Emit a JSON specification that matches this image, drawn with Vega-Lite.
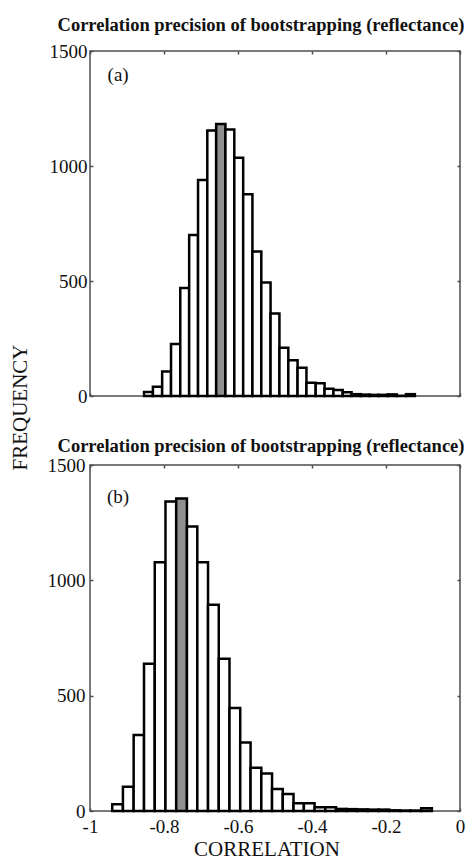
{
  "$schema": "https://vega.github.io/schema/vega-lite/v6.json",
  "autosize": {"type": "none"},
  "padding": {"left": 90, "top": 51, "right": 380, "bottom": 808},
  "bounds": "flush",
  "spacing": 69,
  "config": {
    "locale": {"number": {"decimal": ".", "thousands": ",", "grouping": [3], "currency": ["$", ""], "minus": "-"}},
    "view": {"stroke": "#4d4d4d", "strokeWidth": 1.5},
    "axis": {"grid": false, "domain": false, "tickColor": "#4d4d4d", "tickWidth": 1.5, "tickSize": -3, "labelFlush": false, "labelFont": "Liberation Serif", "labelFontSize": 19, "labelColor": "#111111", "titleFont": "Liberation Serif", "titleFontWeight": "normal", "titleFontSize": 21, "titleColor": "#111111"},
    "title": {"font": "Liberation Serif", "fontSize": 18.5, "fontWeight": "bold", "color": "#111111"}
  },
  "datasets": {
    "a": [
      {"x0": -0.854, "x1": -0.830, "count": 17, "bin": "other"},
      {"x0": -0.830, "x1": -0.805, "count": 40, "bin": "other"},
      {"x0": -0.805, "x1": -0.781, "count": 106, "bin": "other"},
      {"x0": -0.781, "x1": -0.756, "count": 226, "bin": "other"},
      {"x0": -0.756, "x1": -0.732, "count": 470, "bin": "other"},
      {"x0": -0.732, "x1": -0.708, "count": 700, "bin": "other"},
      {"x0": -0.708, "x1": -0.683, "count": 939, "bin": "other"},
      {"x0": -0.683, "x1": -0.659, "count": 1154, "bin": "other"},
      {"x0": -0.659, "x1": -0.634, "count": 1183, "bin": "mean"},
      {"x0": -0.634, "x1": -0.610, "count": 1159, "bin": "other"},
      {"x0": -0.610, "x1": -0.586, "count": 1036, "bin": "other"},
      {"x0": -0.586, "x1": -0.561, "count": 877, "bin": "other"},
      {"x0": -0.561, "x1": -0.537, "count": 628, "bin": "other"},
      {"x0": -0.537, "x1": -0.512, "count": 494, "bin": "other"},
      {"x0": -0.512, "x1": -0.488, "count": 359, "bin": "other"},
      {"x0": -0.488, "x1": -0.464, "count": 210, "bin": "other"},
      {"x0": -0.464, "x1": -0.439, "count": 155, "bin": "other"},
      {"x0": -0.439, "x1": -0.415, "count": 123, "bin": "other"},
      {"x0": -0.415, "x1": -0.390, "count": 58, "bin": "other"},
      {"x0": -0.390, "x1": -0.366, "count": 55, "bin": "other"},
      {"x0": -0.366, "x1": -0.342, "count": 32, "bin": "other"},
      {"x0": -0.342, "x1": -0.317, "count": 26, "bin": "other"},
      {"x0": -0.317, "x1": -0.293, "count": 16, "bin": "other"},
      {"x0": -0.293, "x1": -0.268, "count": 8, "bin": "other"},
      {"x0": -0.268, "x1": -0.244, "count": 6, "bin": "other"},
      {"x0": -0.244, "x1": -0.220, "count": 5, "bin": "other"},
      {"x0": -0.220, "x1": -0.195, "count": 5, "bin": "other"},
      {"x0": -0.195, "x1": -0.171, "count": 7, "bin": "other"},
      {"x0": -0.171, "x1": -0.146, "count": 1, "bin": "other"},
      {"x0": -0.146, "x1": -0.122, "count": 8, "bin": "other"}
    ],
    "b": [
      {"x0": -0.940, "x1": -0.911, "count": 29, "bin": "other"},
      {"x0": -0.911, "x1": -0.882, "count": 105, "bin": "other"},
      {"x0": -0.882, "x1": -0.854, "count": 329, "bin": "other"},
      {"x0": -0.854, "x1": -0.825, "count": 638, "bin": "other"},
      {"x0": -0.825, "x1": -0.796, "count": 1078, "bin": "other"},
      {"x0": -0.796, "x1": -0.767, "count": 1342, "bin": "other"},
      {"x0": -0.767, "x1": -0.738, "count": 1355, "bin": "mean"},
      {"x0": -0.738, "x1": -0.710, "count": 1233, "bin": "other"},
      {"x0": -0.710, "x1": -0.681, "count": 1078, "bin": "other"},
      {"x0": -0.681, "x1": -0.652, "count": 894, "bin": "other"},
      {"x0": -0.652, "x1": -0.623, "count": 660, "bin": "other"},
      {"x0": -0.623, "x1": -0.594, "count": 447, "bin": "other"},
      {"x0": -0.594, "x1": -0.566, "count": 297, "bin": "other"},
      {"x0": -0.566, "x1": -0.537, "count": 187, "bin": "other"},
      {"x0": -0.537, "x1": -0.508, "count": 163, "bin": "other"},
      {"x0": -0.508, "x1": -0.479, "count": 95, "bin": "other"},
      {"x0": -0.479, "x1": -0.450, "count": 74, "bin": "other"},
      {"x0": -0.450, "x1": -0.422, "count": 34, "bin": "other"},
      {"x0": -0.422, "x1": -0.393, "count": 34, "bin": "other"},
      {"x0": -0.393, "x1": -0.364, "count": 16, "bin": "other"},
      {"x0": -0.364, "x1": -0.335, "count": 16, "bin": "other"},
      {"x0": -0.335, "x1": -0.306, "count": 9, "bin": "other"},
      {"x0": -0.306, "x1": -0.278, "count": 8, "bin": "other"},
      {"x0": -0.278, "x1": -0.249, "count": 7, "bin": "other"},
      {"x0": -0.249, "x1": -0.220, "count": 6, "bin": "other"},
      {"x0": -0.220, "x1": -0.191, "count": 6, "bin": "other"},
      {"x0": -0.191, "x1": -0.162, "count": 3, "bin": "other"},
      {"x0": -0.162, "x1": -0.134, "count": 2, "bin": "other"},
      {"x0": -0.134, "x1": -0.105, "count": 2, "bin": "other"},
      {"x0": -0.105, "x1": -0.076, "count": 12, "bin": "other"}
    ]
  },
  "vconcat": [
    {
      "width": 370,
      "height": 345,
      "title": {"text": "Correlation precision of bootstrapping (reflectance)", "anchor": "middle", "frame": "group", "dx": -14, "offset": -7, "baseline": "alphabetic"},
      "resolve": {"axis": {"x": "independent", "y": "independent"}},
      "layer": [
        {
          "data": {"name": "a"},
          "mark": {"type": "bar", "stroke": "black", "strokeWidth": 2.5},
          "encoding": {
            "x": {"field": "x0", "type": "quantitative", "scale": {"domain": [-1, 0], "nice": false, "zero": false},
                  "axis": {"orient": "bottom", "values": [-1, -0.8, -0.6, -0.4, -0.2, 0], "labels": false, "title": null}},
            "x2": {"field": "x1"},
            "y": {"field": "count", "type": "quantitative", "scale": {"domain": [0, 1500], "nice": false},
                  "axis": {"orient": "left", "values": [0, 500, 1000, 1500], "format": "d", "labelPadding": 6,
                           "title": "FREQUENCY", "titleX": -69.5, "titleY": 356, "titleAngle": -90, "titleAlign": "center", "titleBaseline": "middle"}},
            "y2": {"datum": 0},
            "fill": {"field": "bin", "type": "nominal", "scale": {"domain": ["other", "mean"], "range": ["white", "#8f8f8f"]}, "legend": null}
          }
        },
        {
          "data": {"name": "a"},
          "mark": {"type": "point", "opacity": 0},
          "encoding": {
            "x": {"field": "x0", "type": "quantitative", "axis": {"orient": "top", "values": [-1, -0.8, -0.6, -0.4, -0.2, 0], "labels": false, "title": null}},
            "y": {"field": "count", "type": "quantitative", "axis": {"orient": "right", "values": [0, 500, 1000, 1500], "labels": false, "title": null}}
          }
        },
        {
          "data": {"values": [{}]},
          "mark": {"type": "text", "font": "Liberation Serif", "fontSize": 19, "align": "center", "baseline": "middle", "color": "#111111"},
          "encoding": {
            "x": {"datum": -0.924, "type": "quantitative", "axis": null},
            "y": {"datum": 1395, "type": "quantitative", "axis": null},
            "text": {"value": "(a)"}
          }
        }
      ]
    },
    {
      "width": 370,
      "height": 346,
      "title": {"text": "Correlation precision of bootstrapping (reflectance)", "anchor": "middle", "frame": "group", "dx": -14, "offset": -14, "baseline": "alphabetic"},
      "resolve": {"axis": {"x": "independent", "y": "independent"}},
      "layer": [
        {
          "data": {"name": "b"},
          "mark": {"type": "bar", "stroke": "black", "strokeWidth": 2.5},
          "encoding": {
            "x": {"field": "x0", "type": "quantitative", "scale": {"domain": [-1, 0], "nice": false, "zero": false},
                  "axis": {"orient": "bottom", "values": [-1, -0.8, -0.6, -0.4, -0.2, 0], "format": ".1~f", "labelPadding": 9,
                           "title": "CORRELATION", "titleX": 176.5, "titleY": 44, "titleAlign": "center", "titleBaseline": "alphabetic"}},
            "x2": {"field": "x1"},
            "y": {"field": "count", "type": "quantitative", "scale": {"domain": [0, 1500], "nice": false},
                  "axis": {"orient": "left", "values": [0, 500, 1000, 1500], "format": "d", "labelPadding": 8, "title": null}},
            "y2": {"datum": 0},
            "fill": {"field": "bin", "type": "nominal", "scale": {"domain": ["other", "mean"], "range": ["white", "#8f8f8f"]}, "legend": null}
          }
        },
        {
          "data": {"name": "b"},
          "mark": {"type": "point", "opacity": 0},
          "encoding": {
            "x": {"field": "x0", "type": "quantitative", "axis": {"orient": "top", "values": [-1, -0.8, -0.6, -0.4, -0.2, 0], "labels": false, "title": null}},
            "y": {"field": "count", "type": "quantitative", "axis": {"orient": "right", "values": [0, 500, 1000, 1500], "labels": false, "title": null}}
          }
        },
        {
          "data": {"values": [{}]},
          "mark": {"type": "text", "font": "Liberation Serif", "fontSize": 19, "align": "center", "baseline": "middle", "color": "#111111"},
          "encoding": {
            "x": {"datum": -0.924, "type": "quantitative", "axis": null},
            "y": {"datum": 1361, "type": "quantitative", "axis": null},
            "text": {"value": "(b)"}
          }
        }
      ]
    }
  ]
}
